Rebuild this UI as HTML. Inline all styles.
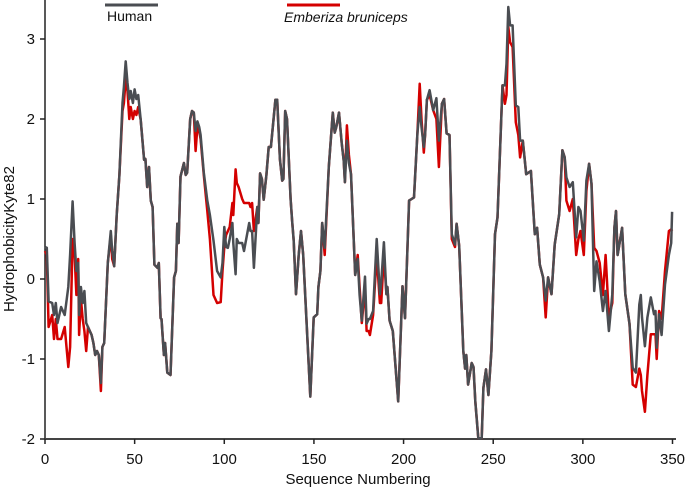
<!DOCTYPE html>
<html><head><meta charset="utf-8"><style>
html,body{margin:0;padding:0;background:#fff;}
svg{display:block;font-family:"Liberation Sans",Arial,sans-serif;}
</style></head><body>
<svg id="chart" width="686" height="488" viewBox="0 0 686 488">
<g id="axes"></g>
<g id="series"></g>
<g>
<line x1="105" y1="5" x2="158" y2="5" stroke="#4a4d52" stroke-width="3"/>
<text x="107" y="21" font-size="14" fill="#111">Human</text>
<line x1="287" y1="5" x2="340" y2="5" stroke="#d40000" stroke-width="3"/>
<text x="284" y="22" font-size="14" font-style="italic" fill="#111">Emberiza bruniceps</text>
</g>
<text x="358" y="484" font-size="15" text-anchor="middle" fill="#111">Sequence Numbering</text>
<text transform="translate(14,239) rotate(-90)" font-size="15" text-anchor="middle" fill="#111">HydrophobicityKyte82</text>
</svg>
<script>
const residues = [0,1,2,4,5,6,7,9,11,13,14,15.4,16.5,17.5,18.5,19,20,21,22,23,24,26,
27,28,29,30,31.2,32,33,34,35,36.7,37.5,38.6,40,41.5,43.2,
44,45,46,47,47.8,49,50,51,52,53.4,
55.3,56,57,58,59,60,61,62.7,63.5,64.5,65,66.3,67,68.2,70,72,73,73.8,74.5,75.6,77.5,78.5,79.3,81,82,83,
84,85,86,86.8,88.6,90.5,92,94,96,98,99,100,101,102,103,104.5,105,106.3,107,108,110,111,113.9,114.6,115.5,116.5,
118.4,119,120,121,122,123.5,124.8,126,128.5,129.5,131,132.3,133,134,135,137,137.8,138.7,140,141.5,142.8,144,148,149.9,151.8,152.5,153.6,154.6,156,158.3,160.5,161.6,162.5,164,165.5,166.6,167.3,168.4,169.5,170.7,173,174.4,
175.5,176.7,178.5,179.4,180.5,181.2,183,185,186.8,187.5,189,190.4,191,192.2,194,197,199.4,200.8,203.1,204.5,205.8,207.7,209,210,211.3,212,213,214.5,216.5,218.3,219.7,221.4,222.6,224,225.6,
226.9,228.7,229.6,231,233.3,234.3,235,236,238,239,240,241.7,243.6,244.5,246,247.3,249,251,252.4,255.2,256.5,257.4,258.4,259.4,260.8,262.6,264,265,266.5,268.4,271,
273.2,274.5,276,277.8,279.3,280.6,282.5,284.3,286.8,288.6,289.9,290.8,292.6,294.4,296.3,297.5,298.7,300.5,302,303.5,304.8,306.3,307.6,309.4,311.2,312.7,314.5,316.4,317.6,318.5,319.4,321.9,323.7,
326,327.8,329.6,331.5,332.3,333,334.6,336,337.9,339.7,340.5,341.2,342.5,343.9,345.8,348,349.3,349.8];
const human = [0.4,0.39,-0.28,-0.3,-0.45,-0.3,-0.55,-0.35,-0.45,-0.1,0.3,0.97,0.45,0.1,0.2,-0.45,-0.1,-0.3,-0.15,-0.55,-0.6,-0.7,
-0.8,-0.95,-0.9,-0.95,-1.3,-0.85,-0.8,-0.3,0.2,0.6,0.35,0.16,0.8,1.3,2.2,
2.4,2.72,2.45,2.25,2.35,2.2,2.37,2.25,2.3,1.99,
1.49,1.5,1.15,1.4,0.98,0.9,0.18,0.14,0.2,-0.49,-0.5,-0.95,-0.8,-1.17,-1.2,0.02,0.1,0.69,0.45,1.28,1.45,1.3,1.33,2.0,2.1,2.08,
1.85,1.97,1.9,1.8,1.33,0.98,0.8,0.48,0.1,0.02,0.2,0.65,0.4,0.39,0.5,0.7,0.45,0.06,0.5,0.45,0.45,0.35,0.7,0.6,0.6,0.14,
0.9,0.7,1.32,1.25,0.99,1.3,1.65,1.65,2.24,2.24,1.5,1.23,1.25,2.1,2.0,1.0,0.73,0.48,-0.19,0.3,0.6,0.3,-1.47,-0.48,-0.44,-0.1,0.1,0.7,0.39,1.4,2.08,1.83,1.9,2.08,1.7,1.48,1.21,1.73,1.45,1.31,0.05,0.25,
-0.2,-0.52,0.03,-0.56,-0.5,-0.5,-0.4,0.5,-0.19,-0.05,0.46,-0.19,-0.1,-0.52,-0.65,-1.53,-0.09,-0.49,0.98,1.0,1.02,1.82,2.15,1.9,1.65,1.8,2.24,2.36,2.11,2.26,1.73,2.19,2.25,1.82,1.8,
0.56,0.43,0.69,0.41,-0.9,-1.12,-0.95,-1.32,-1.05,-1.1,-1.53,-1.99,-1.99,-1.36,-1.13,-1.45,-0.9,0.56,0.77,2.42,2.42,2.69,3.4,3.17,3.17,2.17,2.15,1.73,1.73,1.31,1.35,
0.56,0.64,0.18,0.02,-0.27,0.02,-0.19,0.43,0.81,1.61,1.52,1.27,1.15,1.21,0.52,0.9,0.85,0.48,1.23,1.44,1.19,-0.15,0.22,-0.03,-0.4,-0.15,-0.65,-0.19,0.64,0.85,0.3,0.64,-0.19,
-0.56,-1.11,-1.17,-0.32,-0.2,-0.48,-0.84,-0.48,-0.23,-0.44,-0.4,-0.86,-0.44,-0.7,-0.07,0.3,0.45,0.84];
const bird = [0.35,0.3,-0.6,-0.45,-0.75,-0.5,-0.75,-0.75,-0.6,-1.1,-0.85,0.5,0.3,-0.2,0.25,-0.7,-0.25,-0.5,-0.65,-0.9,-0.6,-0.7,
-0.8,-0.95,-0.9,-0.95,-1.4,-0.85,-0.8,-0.3,0.2,0.55,0.25,0.16,0.8,1.3,2.1,
2.2,2.5,2.35,2.0,2.15,2.0,2.1,2.05,2.15,1.99,
1.49,1.5,1.15,1.4,0.98,0.9,0.18,0.14,0.2,-0.49,-0.5,-0.95,-0.8,-1.17,-1.2,0.02,0.1,0.69,0.45,1.28,1.45,1.3,1.33,2.0,2.1,2.08,
1.6,1.9,1.85,1.75,1.3,0.85,0.5,-0.2,-0.3,-0.29,0.1,0.4,0.55,0.6,0.65,0.95,0.8,1.37,1.2,1.15,1.0,0.95,0.95,0.9,0.95,0.6,
0.9,0.7,1.32,1.25,0.99,1.3,1.65,1.65,2.24,2.24,1.5,1.23,1.25,2.1,2.0,1.0,0.73,0.48,-0.19,0.3,0.6,0.3,-1.47,-0.48,-0.44,-0.1,0.1,0.7,0.3,1.4,2.08,1.83,1.9,2.08,1.7,1.48,1.21,1.92,1.55,1.31,0.05,0.3,
-0.1,-0.55,-0.1,-0.65,-0.65,-0.7,-0.45,0.3,-0.3,-0.3,0.3,-0.19,-0.1,-0.52,-0.65,-1.53,-0.09,-0.49,0.98,1.0,1.02,1.82,2.44,2.0,1.58,1.8,2.24,2.3,2.11,2.0,1.4,2.19,2.25,1.82,1.8,
0.5,0.4,0.69,0.41,-0.9,-1.12,-0.95,-1.32,-1.05,-1.1,-1.53,-1.99,-1.99,-1.36,-1.13,-1.45,-0.9,0.56,0.77,2.42,2.19,2.3,3.15,2.96,2.9,1.96,1.8,1.52,1.73,1.31,1.35,
0.56,0.64,0.18,0.02,-0.48,0.02,-0.19,0.43,0.81,1.61,1.52,0.98,0.85,1.0,0.3,0.5,0.6,0.3,1.1,1.44,1.19,0.39,0.35,0.2,-0.2,0.3,-0.48,-0.3,0.64,0.85,0.3,0.64,-0.19,
-0.56,-1.32,-1.35,-1.12,-1.2,-1.4,-1.66,-1.2,-0.69,-0.69,-0.69,-1.0,-0.4,-0.5,0.1,0.6,0.62,0.6];
const xTicks = [0,50,100,150,200,250,300,350];
const yTicks = [-2,-1,0,1,2,3];

const NS = 'http://www.w3.org/2000/svg';
const X0 = 45, X1 = 672.5, Y0 = 439, Y1 = 39;
function xs(v){ return X0 + (v/350)*(X1-X0); }
function ys(v){ return Y0 - ((v+2)/5)*(Y0-Y1); }
function mk(tag, attrs){ const e=document.createElementNS(NS,tag); for(const k in attrs) e.setAttribute(k,attrs[k]); return e; }

const axes = document.getElementById('axes');
const yAxis = mk('line',{x1:X0,y1:0,x2:X0,y2:Y0,stroke:'#222','stroke-width':1.5});


axes.appendChild(yAxis);
const xAxis = mk('line',{x1:X0,y1:Y0,x2:676,y2:Y0,stroke:'#444','stroke-width':2});


axes.appendChild(xAxis);
yTicks.forEach(t=>{
  const y=ys(t);
  const tk=mk('line',{x1:X0-5,y1:y,x2:X0,y2:y,stroke:'#222','stroke-width':1.5});
  
  
  axes.appendChild(tk);
  const lb=mk('text',{x:X0-10,y:y+5,'font-size':15,'text-anchor':'end',fill:'#111'});
  
  
  lb.textContent=String(t);
  axes.appendChild(lb);
});
xTicks.forEach(t=>{
  const x=xs(t);
  const tk=mk('line',{x1:x,y1:Y0,x2:x,y2:Y0+5,stroke:'#222','stroke-width':1.5});
  
  
  axes.appendChild(tk);
  const lb=mk('text',{x:x,y:Y0+25,'font-size':15,'text-anchor':'middle',fill:'#111'});
  
  
  lb.textContent=String(t);
  axes.appendChild(lb);
});

const series = document.getElementById('series');
function pts(vals){ return residues.map((r,i)=>xs(r).toFixed(1)+','+ys(vals[i]).toFixed(1)).join(' '); }
const birdLine = mk('polyline',{points:pts(bird),fill:'none',stroke:'#d40000','stroke-width':2.5,'stroke-linejoin':'round'});


series.appendChild(birdLine);
const humanLine = mk('polyline',{points:pts(human),fill:'none',stroke:'#4a4d52','stroke-width':2.5,'stroke-linejoin':'round'});


series.appendChild(humanLine);
</script>
</body></html>
